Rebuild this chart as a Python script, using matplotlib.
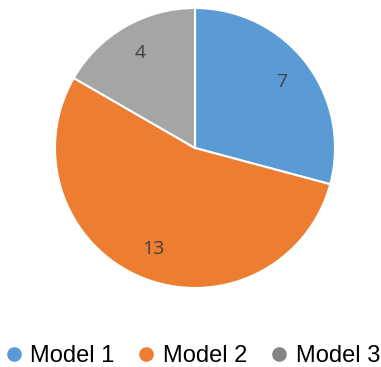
import matplotlib.pyplot as plt
from matplotlib.lines import Line2D

models = ["Model 1", "Model 2", "Model 3"]
counts = [7, 13, 4]
colors = ["#5B9BD5", "#ED7D31", "#A5A5A5"]
legend_colors = ["#5B9BD5", "#ED7D31", "#858585"]

plt.rcParams['font.family'] = ['Liberation Sans', 'DejaVu Sans']

fig = plt.figure(figsize=(3.81, 3.67), dpi=100)
ax = fig.add_axes([55 / 381, 79 / 367, 280 / 381, 280 / 367])

total = sum(counts)
ax.pie(counts, colors=colors, startangle=90, counterclock=False,
       autopct=lambda p: f"{p * total / 100:.0f}", pctdistance=0.78,
       wedgeprops=dict(edgecolor="white", linewidth=1.5),
       textprops=dict(color="#404040", fontsize=14, family=['Open Sans', 'DejaVu Sans']))
ax.set_xlim(-1, 1)
ax.set_ylim(-1, 1)
ax.set_aspect("equal")
ax.axis("off")

handles = [Line2D([], [], marker="o", linestyle="", color=c, markersize=9.5)
           for c in legend_colors]
fig.legend(handles, models, loc="center", bbox_to_anchor=(0.504, 1 - 356 / 367),
           ncol=3, frameon=False, fontsize=17, handletextpad=0.3,
           columnspacing=0.95, handlelength=0.8, borderpad=0, borderaxespad=0)

fig.savefig("out.png", dpi=100)
